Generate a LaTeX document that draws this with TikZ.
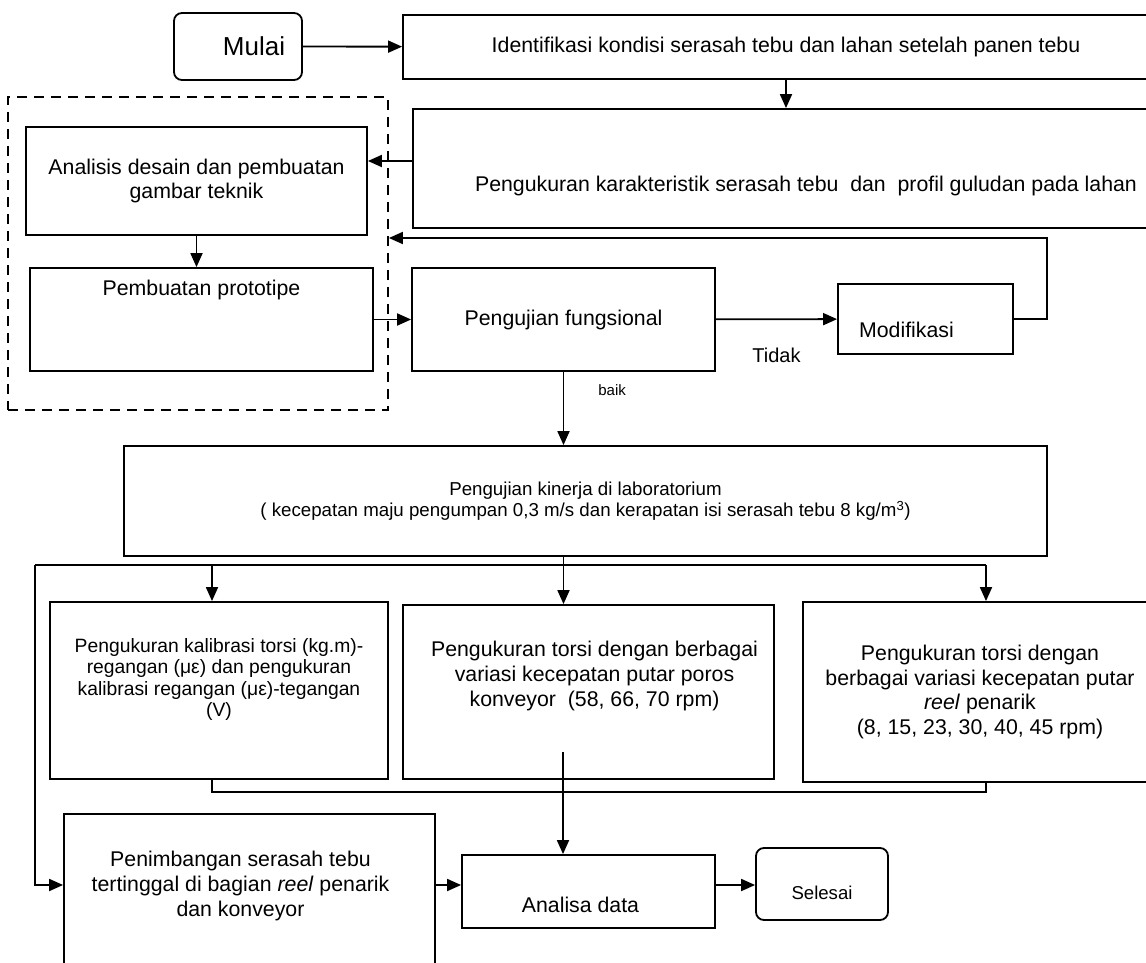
\documentclass[tikz,border=0pt]{standalone}
\usepackage{fontspec}
\setmainfont{Liberation Sans}
\usetikzlibrary{arrows.meta,positioning}

\def\teks{\fontsize{21.3}{24.6}\selectfont}
\def\kecil{\fontsize{19.3}{21.5}\selectfont}

\begin{document}
\begin{tikzpicture}[x=1pt,y=-1pt,
    box/.style={draw, line width=1.8pt, inner sep=0pt, font=\teks, align=center},
    ujung/.style={box, rounded corners=8pt},
    txt/.style={font=\teks, align=center, inner sep=0pt},
    lbl/.style={font=\fontsize{20}{24}\selectfont, inner sep=0pt},
    arr/.style={line width=1.8pt, -{Triangle[length=14pt,width=12pt]}},
    garis/.style={line width=1.8pt}
    ]
    \useasboundingbox (0,0) rectangle (1146,963);
    \clip (0,0) rectangle (1146,963);

    %start
    \node[ujung, minimum width=128pt, minimum height=67pt,
      label={[txt, font=\fontsize{26}{30}\selectfont, xshift=16pt]center:Mulai}]
      (mulai) at (238,46.5) {};
    \node[box, minimum width=766pt, minimum height=64pt] (ident) at (786,47)
      {Identifikasi kondisi serasah tebu dan lahan setelah panen tebu};
    \node[box, minimum width=786pt, minimum height=119pt,
      label={[txt, yshift=-17pt]center:Pengukuran karakteristik serasah tebu\ \ dan\ \ profil guludan pada lahan}]
      (ukur) at (806,168.5) {};

    % rancang bangun
    \node[draw, dashed, dash pattern=on 10pt off 7pt, line width=1.8pt,
      minimum width=380pt, minimum height=313pt] (rancang) at (198,253.5) {};
    \node[box, minimum width=341pt, minimum height=108pt] (analisis) at (196.5,181)
      {Analisis desain dan pembuatan\\gambar teknik};
    \node[box, minimum width=343pt, minimum height=103pt,
      label={[txt, yshift=30pt]center:Pembuatan prototipe}]
      (proto) at (201.5,319.5) {};

    % uji
    \node[box, minimum width=303pt, minimum height=103pt] (uji) at (563.5,319.5)
      {Pengujian fungsional};
    \node[box, minimum width=175pt, minimum height=70pt,
      label={[txt, xshift=-19pt, yshift=-11pt]center:Modifikasi}]
      (modif) at (925.5,319) {};
    \node[box, minimum width=923pt, minimum height=110pt,
      font=\fontsize{18.7}{21}\selectfont] (kinerja) at (585.5,501)
      {Pengujian kinerja di laboratorium\\( kecepatan maju pengumpan 0,3 m/s dan kerapatan isi serasah tebu 8 kg/m\textsuperscript{3})};

    % pengukuran
    \node[box, minimum width=338pt, minimum height=177pt,
      label={[txt, font=\kecil, yshift=11pt]center:{Pengukuran kalibrasi torsi (kg.m)-\\regangan (με) dan pengukuran\\kalibrasi regangan (με)-tegangan\\(V)}}]
      (kal) at (219,690.5) {};
    \node[box, minimum width=371pt, minimum height=174pt,
      label={[txt, xshift=6pt, yshift=16pt]center:{Pengukuran torsi dengan berbagai\\variasi kecepatan putar poros\\konveyor\ \ (58, 66, 70 rpm)}}]
      (torsi) at (588.5,692) {};
    \node[box, minimum width=354pt, minimum height=180pt] (reel) at (980,692)
      {Pengukuran torsi dengan\\berbagai variasi kecepatan putar\\\textit{reel} penarik\\(8, 15, 23, 30, 40, 45 rpm)};

    % akhir
    \node[box, minimum width=371pt, minimum height=176pt,
      label={[txt, xshift=-9pt, yshift=16pt]center:{Penimbangan serasah tebu\\tertinggal di bagian \textit{reel} penarik\\dan konveyor}}]
      (timbang) at (249.5,902) {};
    \node[box, minimum width=253pt, minimum height=73pt,
      label={[txt, xshift=-8pt, yshift=-13pt]center:Analisa data}]
      (analisa) at (588.5,891.5) {};
    \node[ujung, minimum width=132pt, minimum height=72pt,
      label={[txt, font=\fontsize{18.6}{22}\selectfont, yshift=-9pt]center:Selesai}]
      (selesai) at (822,884) {};

    \coordinate (lv1) at (0,161);
    \coordinate (balik) at (1047,238);
    \coordinate (kiri) at (35,565);
    \coordinate (kanan) at (986,565);
    \coordinate (kolom) at (212,0);
    \coordinate (gabung) at (986,792);
    \coordinate (pusat) at (563,752);
    \coordinate (alir) at (0,885);

    % alur atas
    \draw[arr] (mulai) -- (ident);
    \draw[arr] (ident.south) -- (ident.south |- ukur.north);
    \draw[arr] (ukur.west |- lv1) -- (analisis.east |- lv1);
    \draw[arr] (analisis.south) -- (analisis.south |- proto.north);
    \draw[arr] (proto) -- (uji);
    \draw[arr] (uji) -- (modif) node[lbl, midway, yshift=-36pt] (tidak) {Tidak};
    \draw[arr] (modif.east) -| (balik) -- (balik -| rancang.east);
    \draw[arr] (uji.south) -- (uji.south |- kinerja.north)
      node[lbl, font=\fontsize{15}{18}\selectfont, pos=.25, anchor=west, xshift=34pt] (baik) {baik};

    % cabang
    \draw[arr] (kinerja.south -| uji.south) -- (torsi.north -| uji.south);
    \draw[garis] (kiri) -- (kanan);
    \draw[arr] (kolom |- kiri) -- (kolom |- kal.north);
    \draw[arr] (kanan) -- (kanan |- reel.north);
    \draw[arr] (kiri) |- (timbang.west |- alir);
    \draw[garis] (kolom |- kal.south) |- (gabung) -- (gabung |- reel.south);

    % alur bawah
    \draw[arr] (pusat) -- (pusat |- analisa.north);
    \draw[arr] (timbang.east |- alir) -- (analisa.west |- alir);
    \draw[arr] (analisa.east |- alir) -- (selesai.west |- alir);
  \end{tikzpicture}
\end{document}
